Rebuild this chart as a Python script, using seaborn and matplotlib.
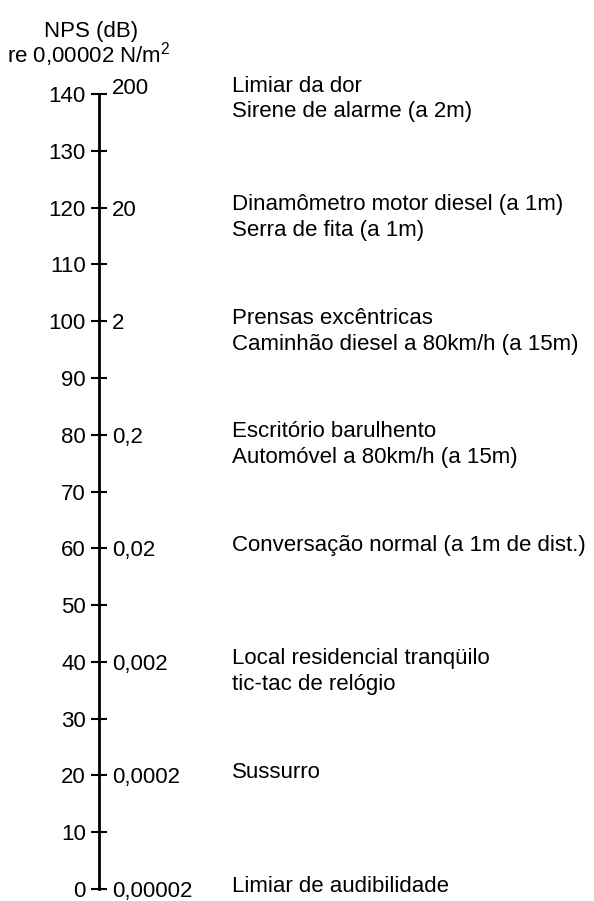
import matplotlib
matplotlib.use("Agg")
import matplotlib.pyplot as plt
import matplotlib.transforms as mtransforms
import seaborn as sns

# ---- data ----
db_ticks = [0, 10, 20, 30, 40, 50, 60, 70, 80, 90, 100, 110, 120, 130, 140]
pressure_db = [0, 20, 40, 60, 80, 100, 120, 140]
pressure_labels = ["0,00002", "0,0002", "0,002", "0,02", "0,2", "2", "20", "200"]
desc_db = [140, 120, 100, 80, 60, 40, 20, 0]
desc_line1 = ["Limiar da dor", "Dinamômetro motor diesel (a 1m)", "Prensas excêntricas",
              "Escritório barulhento", "Conversação normal (a 1m de dist.)",
              "Local residencial tranqüilo", "Sussurro", "Limiar de audibilidade"]
desc_line2 = ["Sirene de alarme (a 2m)", "Serra de fita (a 1m)",
              "Caminhão diesel a 80km/h (a 15m)", "Automóvel a 80km/h (a 15m)",
              "", "tic-tac de relógio", "", ""]
title_line1 = "NPS (dB)"
title_line2 = "re 0,00002 N/m$^2$"

sns.set_theme(style="white")
plt.rcParams['font.family'] = ['Liberation Sans', 'DejaVu Sans']
plt.rcParams['mathtext.fontset'] = 'custom'
plt.rcParams['mathtext.rm'] = 'Liberation Sans'
FS = 16

W, H = 594, 901
fig = plt.figure(figsize=(W / 100, H / 100), dpi=100)
fig.patch.set_facecolor("white")
x0 = 99
y_top, y_bot = 94, 889
ax = fig.add_axes([x0 / W, (H - y_bot) / H, (W - x0) / W, (y_bot - y_top) / H])
ax.set_facecolor("white")
ax.set_ylim(0, 140)
ax.set_xlim(0, 1)
for s in ["top", "right", "bottom"]:
    ax.spines[s].set_visible(False)
ax.spines["left"].set_color("black")
ax.spines["left"].set_linewidth(2.0)
ax.set_xticks([])
ax.set_yticks(db_ticks)
ax.set_yticklabels([str(v) for v in db_ticks])
ax.tick_params(axis="y", direction="inout", length=12, width=1.5, color="black",
               labelsize=FS, labelcolor="black", pad=3.5, left=True)
ax.grid(False)

ax2 = ax.twinx()
ax2.set_ylim(0, 140)
for s in ["top", "left", "bottom", "right"]:
    ax2.spines[s].set_visible(False)
ax2.spines["right"].set_position(("axes", 0))
ax2.set_yticks(pressure_db)
ax2.set_yticklabels(pressure_labels)
ax2.tick_params(axis="y", length=0, labelsize=FS, labelcolor="black", pad=9.5, right=True)
ax2.grid(False)
# top label sits raised above the T
top_lab = ax2.get_yticklabels()[-1]
top_lab.set_transform(top_lab.get_transform() +
                      mtransforms.ScaledTranslation(0, 8 / 100, fig.dpi_scale_trans))

dx = (232 - x0) / (W - x0)
for v, l1, l2 in zip(desc_db, desc_line1, desc_line2):
    up = 8 if v == 140 else 3
    off1 = mtransforms.offset_copy(ax.transData, fig=fig, x=0, y=up, units="dots")
    off2 = mtransforms.offset_copy(ax.transData, fig=fig, x=0, y=up - 26, units="dots")
    ax.text(dx, v, l1, transform=off1, ha="left", va="center", fontsize=FS, color="black")
    if l2:
        ax.text(dx, v, l2, transform=off2, ha="left", va="center", fontsize=FS, color="black")

fig.text(91 / W, 1 - 32 / H, title_line1, ha="center", va="center", fontsize=FS, color="black")
fig.text(89 / W, 1 - 55 / H, title_line2, ha="center", va="center", fontsize=FS, color="black")

fig.savefig("out.png", dpi=100, facecolor="white")
